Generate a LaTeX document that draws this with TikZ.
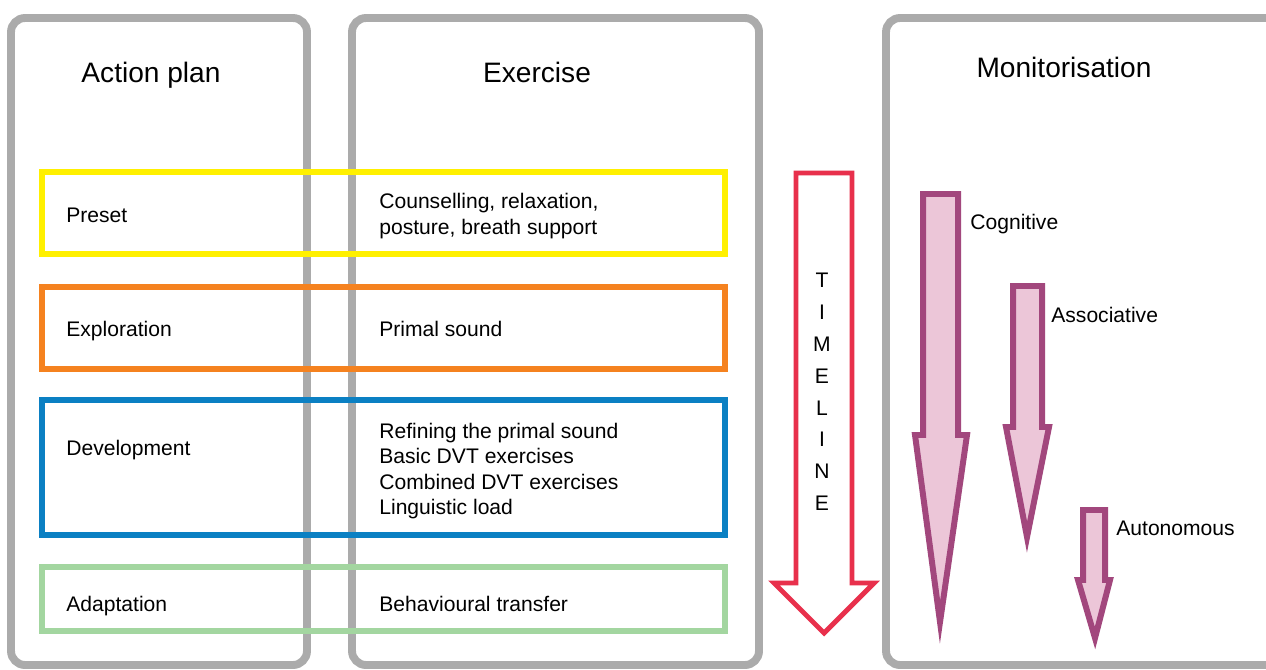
\documentclass[tikz,border=0pt]{standalone}
\usepackage{fontspec}
\setmainfont{Liberation Sans}
\usepackage{xcolor}
\usepackage{tikz}

\definecolor{panelgray}{HTML}{ABABAB}
\definecolor{presetyellow}{HTML}{FFF000}
\definecolor{explorange}{HTML}{F5821F}
\definecolor{devblue}{HTML}{0B80C3}
\definecolor{adaptgreen}{HTML}{A3D6A0}
\definecolor{timered}{HTML}{E8304C}
\definecolor{stagepurple}{HTML}{A2477D}
\definecolor{stagepink}{HTML}{ECC6D8}

\begin{document}
\begin{tikzpicture}[x=0.02cm,y=-0.02cm,
  panel/.style={draw=panelgray,line width=4.5pt,rounded corners=8pt},
  phase/.style={line width=3.1pt},
  header/.style={font=\fontsize{16}{19}\selectfont,inner sep=0pt},
  txt/.style={anchor=west,align=left,inner sep=0pt,font=\fontsize{12}{14.5}\selectfont},
  timearrow/.style={draw=timered,fill=white,line width=2.8pt,line join=miter},
  stagearrow/.style={draw=stagepurple,fill=stagepink,line width=3.4pt,line join=miter}]
\useasboundingbox (0,0) rectangle (1266,669);
\clip (0,0) rectangle (1266,669);
\fill[white] (0,0) rectangle (1266,669);

\draw[panel] (11,18) rectangle (307,665);
\draw[panel] (352,18) rectangle (759,665);
\draw[panel] (886,18) rectangle (1300,665);

\node[header] (plan) at (151,75) {Action plan};
\node[header] (exercise) at (537,72) {Exercise};
\node[header] (monitor) at (1064,67) {Monitorisation};

\draw[phase,draw=presetyellow] (42,172) rectangle (725,254);
\draw[phase,draw=explorange] (42,287) rectangle (725,369);
\draw[phase,draw=devblue] (42,400) rectangle (725,535);
\draw[phase,draw=adaptgreen] (42,567) rectangle (725,631);

\node[txt] (preset) at (66,215) {Preset};
\node[txt] (explore) at (66,331) {Exploration};
\node[txt] (develop) at (66,450) {Development};
\node[txt] (adapt) at (66,606) {Adaptation};

\node[txt] (counsel) at (379,216) {Counselling, relaxation,\\posture, breath support};
\node[txt] (primal) at (379,329) {Primal sound};
\node[txt] (refine) at (379,471) {Refining the primal sound\\Basic DVT exercises\\Combined DVT exercises\\Linguistic load};
\node[txt] (transfer) at (379,604) {Behavioural transfer};

\draw[timearrow] (796,173) -- (852,173) -- (852,583) -- (874,583) -- (824,633)
  -- (774,583) -- (796,583) -- cycle;
\node[align=center,inner sep=0pt,font=\fontsize{12}{18.1}\selectfont] (timeline)
  at (822,392) {T\\I\\M\\E\\L\\I\\N\\E};

\draw[stagearrow] (923,194) -- (958,194) -- (958,435) -- (967,435) -- (940,622)
  -- (915,435) -- (923,435) -- cycle;
\draw[stagearrow] (1013,286) -- (1042,286) -- (1042,427) -- (1049,427) -- (1027,537)
  -- (1006,427) -- (1013,427) -- cycle;
\draw[stagearrow] (1083,510) -- (1105,510) -- (1105,580) -- (1110,580) -- (1095,638)
  -- (1078,580) -- (1083,580) -- cycle;

\node[txt] (cognitive) at (970,224) {Cognitive};
\node[txt] (associative) at (1051,315) {Associative};
\node[txt] (autonomous) at (1116,528) {Autonomous};
\end{tikzpicture}
\end{document}
